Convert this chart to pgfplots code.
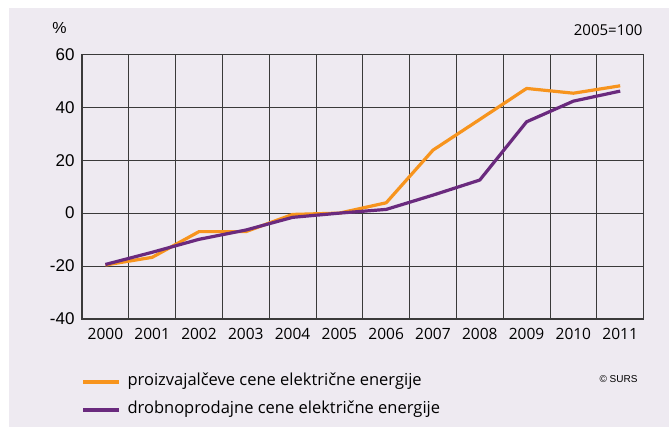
\documentclass[border=0pt]{standalone}
\usepackage{pgfplots}
\pgfplotsset{compat=1.18}
\usepackage{fontspec}
\setmainfont{Open Sans}
\newfontfamily\arial{Liberation Sans}
\definecolor{bg}{HTML}{EEEAF1}
\definecolor{orng}{HTML}{F7941D}
\definecolor{purp}{HTML}{6A2A7E}
\definecolor{gridc}{HTML}{3A3A3A}
\begin{document}
\begin{tikzpicture}[x=1pt,y=1pt]
\path[use as bounding box, fill=white] (0,0) rectangle (669,427);
\fill[bg] (9,0) rectangle (669,419);
\begin{axis}[
  at={(82pt,108pt)}, anchor=south west,
  scale only axis, width=561.6pt, height=264.7pt,
  xmin=1999.5, xmax=2011.5, ymin=-40, ymax=60,
  xtick={2000,...,2011},
  minor xtick={1999.5,2000.5,...,2011.5},
  ytick={-40,-20,...,60},
  xticklabel style={font=\fontsize{15.5}{16}\selectfont},
  yticklabel style={font=\arial\fontsize{17}{18}\selectfont},
  yticklabel={\pgfmathprintnumber[assume math mode=true]{\tick}},
  xticklabel={\pgfmathprintnumber[assume math mode=true,1000 sep={}]{\tick}},
  major tick length=0pt, minor tick length=0pt,
  ymajorgrids, xminorgrids,
  grid style={gridc, line width=0.8pt},
  minor grid style={gridc, line width=0.8pt},
  axis line style={gridc, line width=1.2pt},
  xticklabel shift=6pt, yticklabel shift=4pt,
  clip=false,
]
\addplot[orng, line width=3.2pt, line join=round] coordinates {
(2000,-19.6) (2001,-16.7) (2002,-7.0) (2003,-7.0) (2004,-0.5) (2005,0) (2006,3.9) (2007,23.8) (2008,35.4) (2009,47.1) (2010,45.3) (2011,48.1)};
\addplot[purp, line width=3.2pt, line join=round] coordinates {
(2000,-19.4) (2001,-14.8) (2002,-9.9) (2003,-6.4) (2004,-1.6) (2005,0) (2006,1.4) (2007,6.8) (2008,12.5) (2009,34.5) (2010,42.3) (2011,46.1)};
\end{axis}
\node[font=\arial\fontsize{16}{17}\selectfont] at (59.5,399) {\%};
\node[font=\fontsize{15}{16}\selectfont, anchor=east] at (646,397) {2005=100};
\draw[orng, line width=3.2pt] (83,45) -- (119,45);
\draw[purp, line width=3.2pt] (83,17) -- (119,17);
\node[font=\fontsize{16.5}{17}\selectfont, anchor=west] at (124,46) {proizvajalčeve cene električne energije};
\node[font=\fontsize{16.5}{17}\selectfont, anchor=west] at (124,18) {drobnoprodajne cene električne energije};
\node[font=\arial\fontsize{10}{11}\selectfont, anchor=east] at (641,48) {© SURS};
\end{tikzpicture}
\end{document}
